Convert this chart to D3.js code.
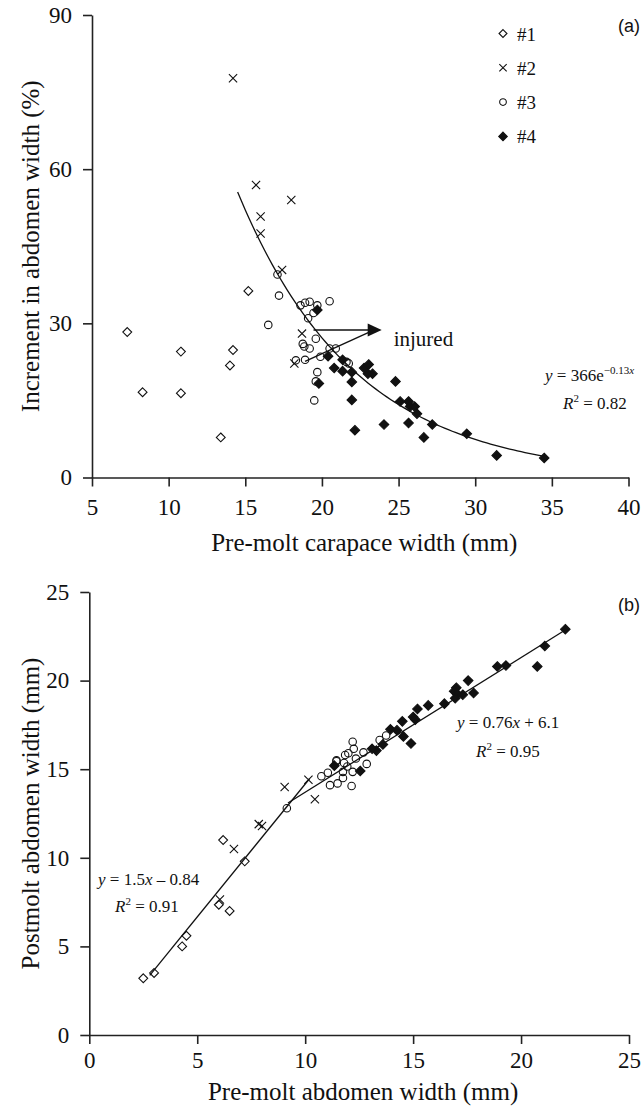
<!DOCTYPE html>
<html>
<head>
    <meta charset="utf-8">
    <!-- Load d3.js -->
    <script src="https://d3js.org/d3.v7.min.js"></script>
    <style>
        body { margin: 0; background: #fff; }
        text { font-family: "Liberation Serif", "Times New Roman", serif; fill: #111; }
        .tag { font-family: "Liberation Sans", Arial, sans-serif; }
    </style>
</head>

<body>

    <div id="my_dataviz"></div>

    <script>

        // ---- data, panel (a): pre-molt carapace width (mm) vs increment in abdomen width (%)
        var a1 = [[7.3, 28.3], [8.3, 16.6], [10.8, 24.5], [10.8, 16.4], [14.2, 24.8], [14.0, 21.8], [13.4, 7.8], [15.2, 36.3]];
        var a2 = [[14.2, 77.7], [15.7, 56.9], [18.0, 54.0], [16.0, 50.8], [16.0, 47.5], [17.4, 40.4], [18.7, 28.0], [18.2, 22.2]];
        var a3 = [[17.1, 39.5], [17.2, 35.4], [16.5, 29.7], [18.6, 33.5], [18.9, 34.0], [19.2, 34.2], [19.7, 33.5],
                  [20.5, 34.3], [19.1, 31.0], [19.45, 32.0], [19.6, 27.0], [18.75, 26.0], [18.85, 25.5], [19.2, 25.1],
                  [20.5, 25.1], [20.9, 25.1], [19.9, 23.5], [18.3, 22.8], [18.9, 22.9], [19.7, 20.5], [19.6, 18.7],
                  [19.5, 15.0], [21.6, 22.5], [21.75, 22.2]];
        var a4 = [[19.7, 32.6], [20.4, 23.6], [20.8, 21.3], [21.35, 22.9], [21.35, 20.7], [21.95, 20.5], [21.95, 18.6],
                  [21.95, 15.1], [22.15, 9.2], [19.8, 18.3], [22.75, 21.3], [23.05, 22.0], [23.0, 20.2], [23.3, 20.2],
                  [24.8, 18.7], [24.05, 10.3], [25.1, 14.8], [25.65, 14.8], [25.75, 13.8], [26.05, 13.8], [26.2, 12.4],
                  [25.65, 10.6], [26.65, 7.8], [27.2, 10.3], [29.45, 8.5], [31.4, 4.3], [34.5, 3.8]];
        // fitted curve y = 366 e^(-0.13 x), drawn over the fitted range
        var fitA = { a: 366, b: -0.13, from: 14.5, to: 34.5 };
        // "injured" arrow: two tails and the tip (data units)
        var injuredTails = [[19.45, 28.7], [18.9, 22.6]];
        var injuredTip = [23.9, 28.7];

        // ---- data, panel (b): pre-molt vs postmolt abdomen width (mm)
        var b1 = [[2.5, 3.2], [3.0, 3.5], [4.3, 5.0], [4.5, 5.6], [6.0, 7.35], [6.5, 7.0], [7.2, 9.8], [6.2, 11.0]];
        var b2 = [[6.05, 7.65], [6.7, 10.5], [7.85, 11.9], [8.0, 11.8], [9.05, 14.0], [10.15, 14.4], [10.45, 13.3]];
        var b3 = [[9.15, 12.8], [10.75, 14.6], [11.05, 14.8], [11.45, 15.45], [11.15, 14.1], [11.5, 14.2], [11.85, 15.8],
                  [12.0, 15.9], [12.2, 16.55], [12.25, 16.15], [11.75, 14.85], [11.75, 14.5], [12.15, 14.05], [11.95, 15.15],
                  [12.2, 14.85], [12.35, 15.6], [12.7, 15.95], [12.85, 15.3], [13.45, 16.65], [13.75, 16.9], [11.8, 15.35],
                  [11.45, 15.5]];
        var b4 = [[22.05, 22.9], [21.1, 21.95], [20.75, 20.8], [18.9, 20.8], [19.3, 20.85], [17.55, 20.0], [17.0, 19.6],
                  [16.9, 19.4], [17.05, 19.25], [16.95, 19.0], [17.3, 19.2], [17.8, 19.3], [16.45, 18.7], [15.7, 18.6],
                  [15.2, 18.4], [15.0, 17.95], [15.1, 17.8], [14.5, 17.7], [14.55, 16.85], [14.9, 16.45], [13.95, 17.25],
                  [14.25, 17.2], [13.6, 16.4], [13.3, 16.05], [13.1, 16.15], [12.55, 14.9], [11.35, 15.2]];
        // two fitted lines
        var fitB1 = { m: 1.5, c: -0.84, from: 2.8, to: 10.2 };
        var fitB2 = { m: 0.76, c: 6.1, from: 9.2, to: 22.1 };

        var legendLabels = ["#1", "#2", "#3", "#4"];
        var ticksAx = [5, 10, 15, 20, 25, 30, 35, 40];
        var ticksAy = [0, 30, 60, 90];
        var ticksB = [0, 5, 10, 15, 20, 25];

        var serif = "'Liberation Serif', 'Times New Roman', serif";

        var svg = d3.select("#my_dataviz")
            .append("svg")
            .attr("width", 642)
            .attr("height", 1110);

        // symbol generators (open diamond, cross, open circle, filled diamond)
        var symbols = [
            { type: d3.symbolDiamond2, size: 50, fill: "none" },
            { type: d3.symbolTimes, size: 46, fill: "none" },
            { type: d3.symbolCircle, size: 44, fill: "none" },
            { type: d3.symbolDiamond2, size: 58, fill: "#111" }
        ];

        function drawAxes(g, x, y, xt, yt, xPad, xTitle, yTitle, xTitleY) {
            g.append("g")
                .attr("transform", "translate(0," + y.range()[0] + ")")
                .call(d3.axisBottom(x).tickValues(xt).tickSize(9).tickSizeOuter(0).tickPadding(xPad).tickFormat(d3.format("d")))
                .attr("font-family", serif)
                .attr("font-size", 23);
            g.append("g")
                .attr("transform", "translate(" + x.range()[0] + ",0)")
                .call(d3.axisLeft(y).tickValues(yt).tickSize(9).tickSizeOuter(0).tickPadding(11).tickFormat(d3.format("d")))
                .attr("font-family", serif)
                .attr("font-size", 23);
            g.selectAll(".domain, .tick line").attr("stroke", "#222").attr("stroke-width", 1.6);

            g.append("text")
                .attr("x", (x.range()[0] + x.range()[1]) / 2 + 4)
                .attr("y", xTitleY)
                .attr("text-anchor", "middle")
                .style("font-size", "25px")
                .text(xTitle);
            g.append("text")
                .attr("transform", "translate(30," + (y.range()[0] + y.range()[1]) / 2 + ") rotate(-90)")
                .attr("dy", "0.35em")
                .attr("text-anchor", "middle")
                .style("font-size", "25px")
                .text(yTitle);
        }

        function drawPoints(g, x, y, sets) {
            sets.forEach(function (pts, i) {
                var sym = symbols[i];
                g.selectAll(null)
                    .data(pts)
                    .enter()
                    .append("path")
                    .attr("transform", function (d) { return "translate(" + x(d[0]) + "," + y(d[1]) + ")"; })
                    .attr("d", d3.symbol().type(sym.type).size(sym.size))
                    .attr("fill", sym.fill)
                    .attr("stroke", "#111")
                    .attr("stroke-width", 1.1);
            });
        }

        // ================= panel (a)
        var xa = d3.scaleLinear().domain([5, 40]).range([92, 628.5]);
        var ya = d3.scaleLinear().domain([0, 90]).range([477.5, 15]);
        var ga = svg.append("g");

        drawAxes(ga, xa, ya, ticksAx, ticksAy, 12, "Pre-molt carapace width (mm)", "Increment in abdomen width (%)", 551);

        // fitted exponential
        var curve = d3.range(fitA.from, fitA.to + 0.001, 0.25).map(function (v) { return [v, fitA.a * Math.exp(fitA.b * v)]; });
        ga.append("path")
            .datum(curve)
            .attr("fill", "none")
            .attr("stroke", "#111")
            .attr("stroke-width", 1.3)
            .attr("d", d3.line()
                .x(function (d) { return xa(d[0]) })
                .y(function (d) { return ya(d[1]) })
            );

        drawPoints(ga, xa, ya, [a1, a2, a3, a4]);

        // injured arrow
        injuredTails.forEach(function (t) {
            ga.append("line")
                .attr("x1", xa(t[0])).attr("y1", ya(t[1]))
                .attr("x2", xa(injuredTip[0]) - 8).attr("y2", ya(injuredTip[1]))
                .attr("stroke", "#111").attr("stroke-width", 1.4);
        });
        var tx = xa(injuredTip[0]), ty = ya(injuredTip[1]);
        ga.append("path")
            .attr("d", "M" + tx + "," + ty + "L" + (tx - 14) + "," + (ty - 6.5) + "L" + (tx - 14) + "," + (ty + 6.5) + "Z")
            .attr("fill", "#111");
        ga.append("text")
            .attr("x", tx + 12).attr("y", ty + 16)
            .style("font-size", "21px")
            .text("injured");

        // equation (a)
        var eqA = ga.append("text").attr("x", 545).attr("y", 381).style("font-size", "17px");
        eqA.append("tspan").style("font-style", "italic").text("y");
        eqA.append("tspan").text(" = 366e");
        eqA.append("tspan").attr("dy", "-7").style("font-size", "11px").text("\u22120.13");
        eqA.append("tspan").style("font-size", "11px").style("font-style", "italic").text("x");
        var r2A = ga.append("text").attr("x", 563).attr("y", 409).style("font-size", "17px");
        r2A.append("tspan").style("font-style", "italic").text("R");
        r2A.append("tspan").attr("dy", "-7").style("font-size", "11px").text("2");
        r2A.append("tspan").attr("dy", "7").text(" = 0.82");

        // legend
        var leg = ga.selectAll(".leg")
            .data(legendLabels)
            .enter()
            .append("g")
            .attr("transform", function (d, i) { return "translate(503," + (33.5 + i * 34.3) + ")"; });
        leg.append("path")
            .attr("d", function (d, i) { return d3.symbol().type(symbols[i].type).size(symbols[i].size * 0.8)(); })
            .attr("fill", function (d, i) { return symbols[i].fill; })
            .attr("stroke", "#111")
            .attr("stroke-width", 1.1);
        leg.append("text")
            .attr("x", 14)
            .attr("y", 7)
            .style("font-size", "19px")
            .text(function (d) { return d; });

        ga.append("text").attr("class", "tag").attr("x", 640).attr("y", 32)
            .attr("text-anchor", "end").style("font-size", "18px").text("(a)");

        // ================= panel (b)
        var xb = d3.scaleLinear().domain([0, 25]).range([89.3, 629]);
        var yb = d3.scaleLinear().domain([0, 25]).range([1035, 592]);
        var gb = svg.append("g");

        drawAxes(gb, xb, yb, ticksB, ticksB, 8, "Pre-molt abdomen width (mm)", "Postmolt abdomen width (mm)", 1100);

        [fitB1, fitB2].forEach(function (f) {
            gb.append("path")
                .datum([f.from, f.to])
                .attr("fill", "none")
                .attr("stroke", "#111")
                .attr("stroke-width", 1.3)
                .attr("d", d3.line()
                    .x(function (d) { return xb(d) })
                    .y(function (d) { return yb(f.m * d + f.c) })
                );
        });

        drawPoints(gb, xb, yb, [b1, b2, b3, b4]);

        var eqB2 = gb.append("text").attr("x", 457).attr("y", 728).style("font-size", "17px");
        eqB2.append("tspan").style("font-style", "italic").text("y");
        eqB2.append("tspan").text(" = 0.76");
        eqB2.append("tspan").style("font-style", "italic").text("x");
        eqB2.append("tspan").text(" + 6.1");
        var r2B2 = gb.append("text").attr("x", 476).attr("y", 757).style("font-size", "17px");
        r2B2.append("tspan").style("font-style", "italic").text("R");
        r2B2.append("tspan").attr("dy", "-7").style("font-size", "11px").text("2");
        r2B2.append("tspan").attr("dy", "7").text(" = 0.95");

        var eqB1 = gb.append("text").attr("x", 98).attr("y", 885).style("font-size", "17px");
        eqB1.append("tspan").style("font-style", "italic").text("y");
        eqB1.append("tspan").text(" = 1.5");
        eqB1.append("tspan").style("font-style", "italic").text("x");
        eqB1.append("tspan").text(" \u2013 0.84");
        var r2B1 = gb.append("text").attr("x", 115).attr("y", 912).style("font-size", "17px");
        r2B1.append("tspan").style("font-style", "italic").text("R");
        r2B1.append("tspan").attr("dy", "-7").style("font-size", "11px").text("2");
        r2B1.append("tspan").attr("dy", "7").text(" = 0.91");

        gb.append("text").attr("class", "tag").attr("x", 640).attr("y", 611)
            .attr("text-anchor", "end").style("font-size", "18px").text("(b)");

    </script>
</body>

</html>
